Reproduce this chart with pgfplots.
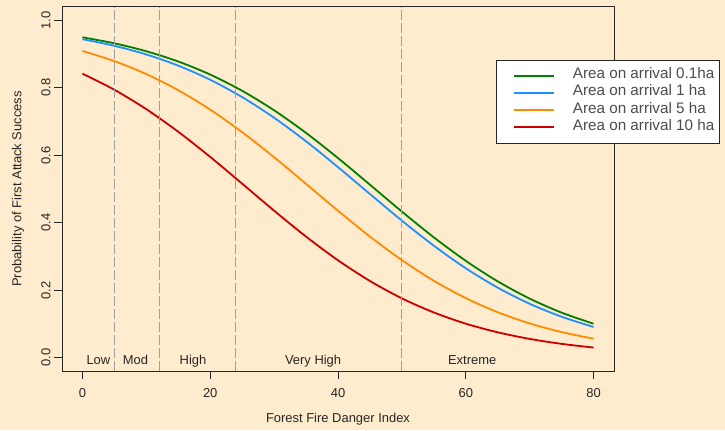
\documentclass[border=0pt]{standalone}
\usepackage{pgfplots}
\pgfplotsset{compat=1.18}
\usepackage{fontspec}
\setmainfont{Liberation Sans}
\definecolor{bg}{RGB}{255,235,205}
\definecolor{cgreen}{RGB}{0,128,0}
\definecolor{cblue}{RGB}{30,144,255}
\definecolor{corange}{RGB}{255,140,0}
\definecolor{cred}{RGB}{205,0,0}
\definecolor{dashgray}{RGB}{160,160,160}
\definecolor{axgray}{RGB}{40,40,40}
\begin{document}
\begin{tikzpicture}[x=1bp,y=1bp]
\path[use as bounding box, fill=bg] (-62,-59) rectangle (663,371.2);
\begin{axis}[
  at={(0,0)}, anchor=south west,
  scale only axis, width=552bp, height=364.5bp,
  xmin=-3.2, xmax=83.2, ymin=-0.04, ymax=1.04,
  axis line style={axgray, line width=0.8bp},
  xtick={0,20,40,60,80}, xticklabels={0,20,40,60,80},
  ytick={0,0.2,0.4,0.6,0.8,1}, yticklabels={0.0,0.2,0.4,0.6,0.8,1.0},
  tick align=outside, xtick pos=bottom, ytick pos=left,
  major tick length=8bp,
  tick style={axgray, line width=0.8bp},
  font=\fontsize{13}{15}\selectfont,
  /pgf/number format/assume math mode=true,
  xticklabel style={anchor=base, inner sep=0pt, text=black!85},
  yticklabel style={rotate=90, anchor=base, inner sep=0pt, text=black!85},
  xticklabel shift=18bp, yticklabel shift=3.5bp,
  every axis x label/.style={at={(axis description cs:0.5,-0.1416)}, anchor=base, text=black!85},
  every axis y label/.style={at={(axis description cs:-0.0734,0.5)}, anchor=base, rotate=90, text=black!85},
  xlabel={Forest Fire Danger Index},
  ylabel={Probability of First Attack Success},
  legend style={at={(0.786,0.8538)}, anchor=north west, draw=axgray, fill=white,
    inner xsep=5bp, inner ysep=7bp,
    font=\fontsize{15.3}{17}\selectfont, text=black!70,
    nodes={inner sep=0pt, text height=11.5bp, text depth=5.7bp},
    /tikz/column sep=18bp},
  legend cell align=left,
  legend image code/.code={\path (0bp,0bp); \draw[#1] plot coordinates {(12bp,0bp) (32bp,0bp) (52bp,0bp)};},
  legend entries={Area on arrival 0.1ha, Area on arrival 1 ha, Area on arrival 5 ha, Area on arrival 10 ha},
]
\addplot[cgreen, line width=1.8bp, smooth] coordinates {
(0,0.9493) (5,0.9315) (10,0.9080) (15,0.8776) (20,0.8389) (25,0.7908) (30,0.7330)
(35,0.6660) (40,0.5915) (45,0.5125) (50,0.4329) (55,0.3566) (60,0.2870) (65,0.2262)
(70,0.1751) (75,0.1335) (80,0.1007)};
\addplot[cblue, line width=1.8bp, smooth] coordinates {
(0,0.9438) (5,0.9241) (10,0.8985) (15,0.8653) (20,0.8234) (25,0.7721) (30,0.7110)
(35,0.6411) (40,0.5646) (45,0.4850) (50,0.4061) (55,0.3318) (60,0.2650) (65,0.2075)
(70,0.1598) (75,0.1213) (80,0.0911)};
\addplot[corange, line width=1.8bp, smooth] coordinates {
(0,0.9089) (5,0.8787) (10,0.8402) (15,0.7925) (20,0.7350) (25,0.6682) (30,0.5939)
(35,0.5150) (40,0.4354) (45,0.3589) (50,0.2891) (55,0.2279) (60,0.1765) (65,0.1347)
(70,0.1016) (75,0.0759) (80,0.0563)};
\addplot[cred, line width=1.8bp, smooth] coordinates {
(0,0.8416) (5,0.7939) (10,0.7363) (15,0.6694) (20,0.5949) (25,0.5156) (30,0.4356)
(35,0.3588) (40,0.2886) (45,0.2273) (50,0.1758) (55,0.1340) (60,0.1008) (65,0.0752)
(70,0.0557) (75,0.0410) (80,0.0301)};

\addplot[dashgray, dash pattern=on 10bp off 3bp, line width=1.2bp, forget plot] coordinates {(5,-0.04) (5,1.04)};
\addplot[dashgray, dash pattern=on 10bp off 3bp, line width=1.2bp, forget plot] coordinates {(12,-0.04) (12,1.04)};
\addplot[dashgray, dash pattern=on 10bp off 3bp, line width=1.2bp, forget plot] coordinates {(24,-0.04) (24,1.04)};
\addplot[dashgray, dash pattern=on 10bp off 3bp, line width=1.2bp, forget plot] coordinates {(50,-0.04) (50,1.04)};

\node[anchor=base, text=black!85] at (axis cs:2.5,-0.02) {Low};
\node[anchor=base, text=black!85] at (axis cs:8.3,-0.02) {Mod};
\node[anchor=base, text=black!85] at (axis cs:17.3,-0.02) {High};
\node[anchor=base, text=black!85] at (axis cs:36.1,-0.02) {Very High};
\node[anchor=base, text=black!85] at (axis cs:61,-0.02) {Extreme};
\end{axis}
\end{tikzpicture}
\end{document}
